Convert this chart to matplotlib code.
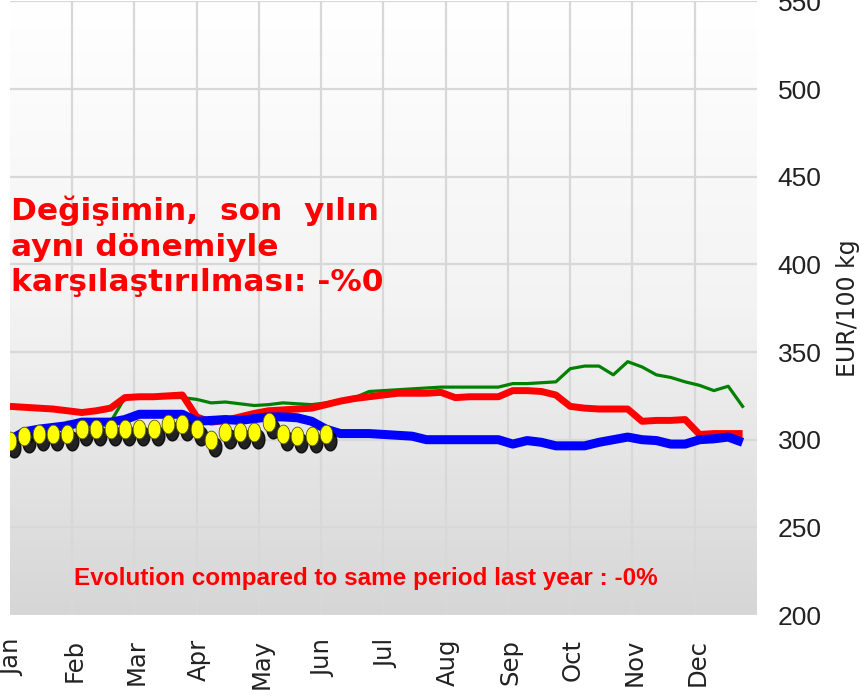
import matplotlib
matplotlib.use("Agg")
import matplotlib.pyplot as plt
import matplotlib.transforms as mtransforms
from matplotlib.colors import LinearSegmentedColormap
from matplotlib.markers import MarkerStyle
from matplotlib.path import Path

import numpy as np

# Weekly prices, EUR/100 kg (week 0 = start of January).
months = ["Jan", "Feb", "Mar", "Apr", "May", "Jun",
          "Jul", "Aug", "Sep", "Oct", "Nov", "Dec"]

green_prices = [300, 298, 301, 305, 310, 310, 310, 310, 324, 324,
                324, 324, 324, 323, 321, 321.5, 320.5, 319.5, 320, 321,
                320.5, 320, 321, 322.5, 324, 327.5, 328, 328.5, 329, 329.5,
                330, 330, 330, 330, 330, 332, 332, 332.5, 333, 340.5,
                342, 342, 337, 344.5, 341.5, 337, 335.5, 333, 331, 328,
                330.5, 319]

red_prices = [319, 318.5, 318, 317.5, 316.5, 315.5, 316.5, 318, 324, 324.5,
              324.5, 325, 325.5, 313, 310, 311, 313, 315, 316.5, 317,
              317.5, 318, 320, 322, 323.5, 324.5, 325.5, 326.5, 326.5, 326.5,
              327, 324, 324.5, 324.5, 324.5, 328, 328, 327.5, 325.5, 319,
              318, 317.5, 317.5, 317.5, 310.5, 311, 311, 311.5, 303, 303.5,
              303.5, 303.5]

blue_prices = [300, 304.5, 306, 307, 308, 310, 310, 310, 311.5, 314.5,
               314.5, 314.5, 314.5, 310.5, 311, 311.5, 311, 312, 313, 313,
               312.5, 310.5, 306, 303.5, 303.5, 303.5, 303, 302.5, 302, 300,
               300, 300, 300, 300, 300, 297.5, 299.5, 298.5, 296.5, 296.5,
               296.5, 298.5, 300, 301.5, 300, 299.5, 297.5, 297.5, 300, 300.5,
               301.5, 298.5]

current_prices = [299, 302, 303.5, 303.5, 303.5, 306, 306, 306, 306, 306,
                  306, 309, 309, 306, 300, 304.5, 304.5, 304.5, 310, 303,
                  302, 302, 303.5]

note_tr = "Değişimin,  son  yılın\naynı dönemiyle\nkarşılaştırılması: -%0"
note_en = "Evolution compared to same period last year : -0%"


def week_to_month(values):
    return np.arange(len(values)) * 12.0 / 52.0


def main():
    fig = plt.figure(figsize=(8.6, 7.0), dpi=100)
    ax = fig.add_axes([0.0116, 0.1214, 0.8686, 0.8766])

    # background gradient
    cmap = LinearSegmentedColormap.from_list("bg", ["#ffffff", "#f3f3f3", "#d6d6d6"])
    ax.imshow(np.linspace(0, 1, 256)[:, None], extent=(0, 12, 200, 550),
              aspect="auto", cmap=cmap, zorder=0)

    ax.set_xlim(0, 12)
    ax.set_ylim(200, 550)
    ax.set_xticks(range(1, 12), minor=False)
    ax.set_yticks(range(200, 551, 50))
    ax.grid(True, color="#d8d8d8", linewidth=1.6)
    for spine in ax.spines.values():
        spine.set_visible(False)

    ax.plot(week_to_month(green_prices), green_prices, color="#008000",
            linewidth=2.3, zorder=3)
    ax.plot(week_to_month(red_prices), red_prices, color="#ff0000",
            linewidth=5.0, zorder=4, solid_capstyle="butt")
    ax.plot(week_to_month(blue_prices), blue_prices, color="#0000ff",
            linewidth=6.5, zorder=5, solid_capstyle="butt")

    # yellow markers with a black drop shadow
    theta = np.linspace(0, 2 * np.pi, 60)
    oval = Path(np.column_stack([0.68 * np.cos(theta), np.sin(theta)]), closed=True)
    marker = MarkerStyle(oval)
    shadow = ax.transData + mtransforms.ScaledTranslation(3 / 72, -5 / 72,
                                                          fig.dpi_scale_trans)
    xs = week_to_month(current_prices)
    ax.plot(xs, current_prices, linestyle="none", marker=marker, markersize=13.5,
            color="black", alpha=0.85, transform=shadow, zorder=6)
    ax.plot(xs, current_prices, linestyle="none", marker=marker, markersize=13.5,
            markerfacecolor="#ffff00", markeredgecolor="#555500",
            markeredgewidth=0.6, zorder=7)

    # ticks
    ax.tick_params(axis="both", length=0)
    ax.yaxis.tick_right()
    ax.yaxis.set_label_position("right")
    ax.tick_params(axis="y", pad=15)
    for lab in ax.get_yticklabels():
        lab.set_family("Liberation Sans")
        lab.set_fontsize(19)
        lab.set_color("#222222")

    # month labels, nudged a little right so "Jan" stays inside the figure
    sec = ax.secondary_xaxis("bottom")
    sec.set_xticks(np.arange(12) + 0.04)
    sec.set_xticklabels(months, rotation=90, fontsize=17.5, color="#222222",
                        family="DejaVu Sans")
    sec.tick_params(length=0, pad=17)
    sec.spines["bottom"].set_visible(False)
    ax.set_xticklabels([])

    ax.set_ylabel("EUR/100 kg", fontsize=17, color="#222222", labelpad=10)

    ax.text(0.002, 0.683, note_tr, transform=ax.transAxes, ha="left", va="top",
            color="#ff0000", fontsize=22.5, fontweight="bold",
            family="DejaVu Sans", linespacing=1.28, zorder=8)
    ax.text(0.477, 0.060, note_en, transform=ax.transAxes, ha="center",
            va="center", color="#ff0000", fontsize=17.5, fontweight="bold",
            family="Liberation Sans", zorder=8)

    fig.savefig("out.png", dpi=100)


if __name__ == "__main__":
    main()
